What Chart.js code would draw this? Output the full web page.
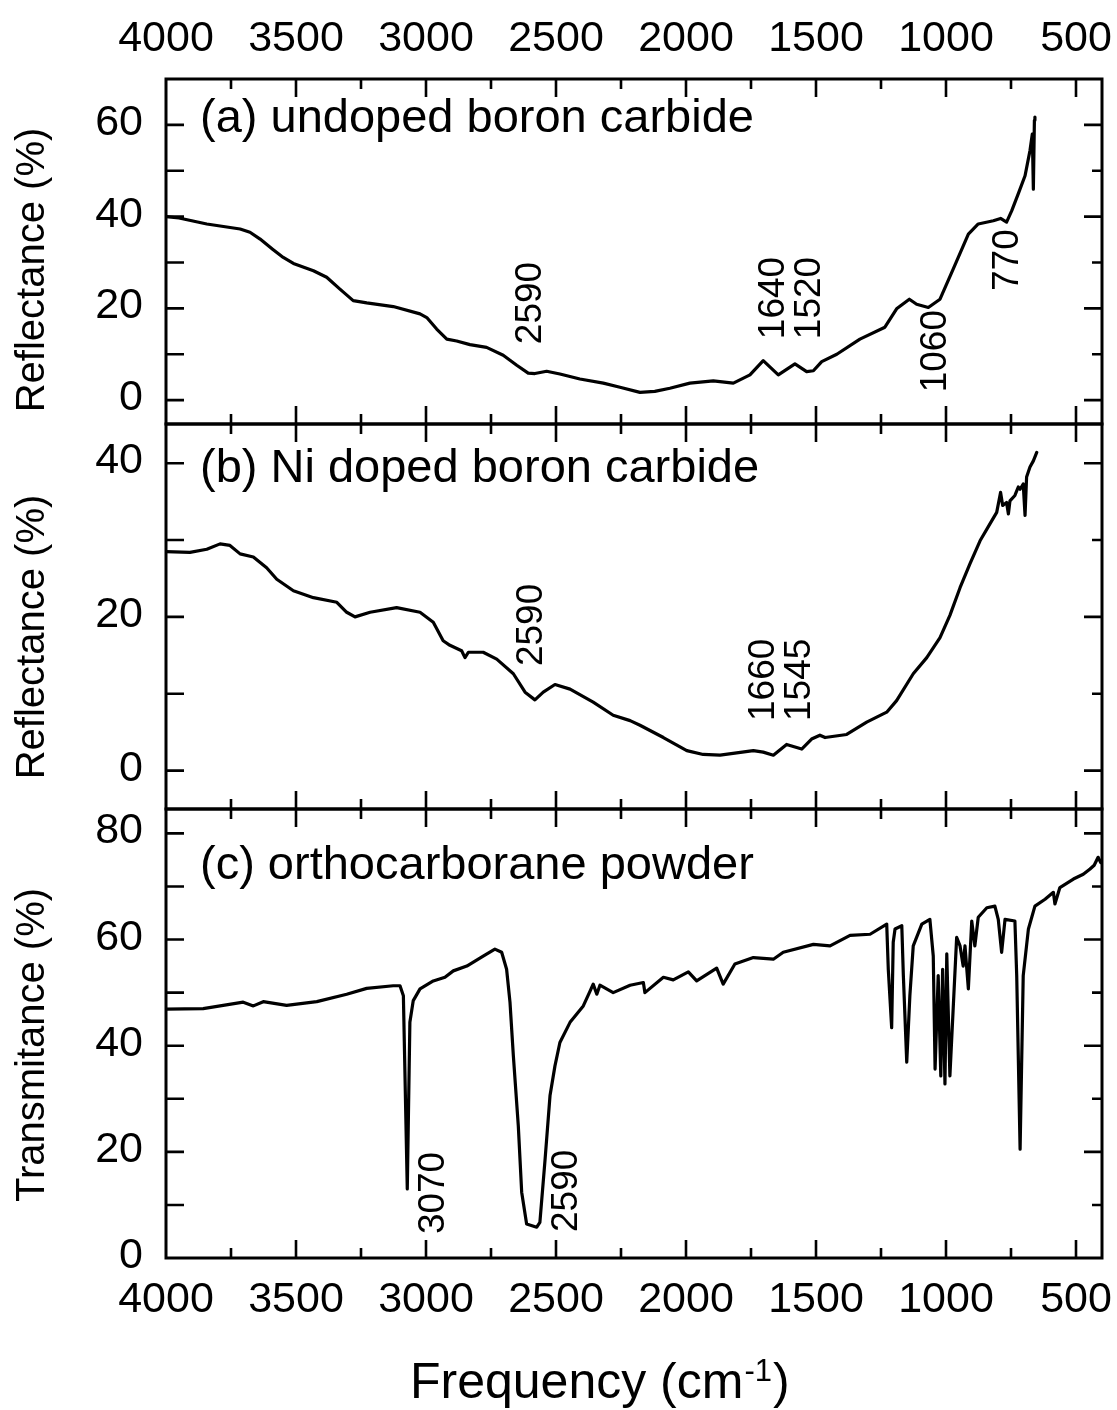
<!DOCTYPE html>
<html>
<head>
<meta charset="utf-8">
<script src="https://cdn.jsdelivr.net/npm/chart.js@4.4.0/dist/chart.umd.min.js"></script>
<style>
  html, body { margin: 0; padding: 0; background: #fff; }
  #wrap { position: relative; width: 1117px; height: 1410px; overflow: hidden; }
  canvas { position: absolute; left: 0; }
</style>
</head>
<body>
<div id="wrap">
  <canvas id="panelA" width="1117" height="440" style="top:0px"></canvas>
  <canvas id="panelB" width="1117" height="405" style="top:414px"></canvas>
  <canvas id="panelC" width="1117" height="611" style="top:799px"></canvas>
</div>
<script>
// frequency axis (cm-1), shared by the three panels
const xMajor = [4000, 3500, 3000, 2500, 2000, 1500, 1000, 500];
const xMinor = [3750, 3250, 2750, 2250, 1750, 1250, 750];

// (a) undoped boron carbide, reflectance %
const aFreq = [4000, 3950, 3843, 3715, 3677, 3638, 3590, 3549, 3510, 3433, 3382, 3331, 3280, 3228, 3126, 3023, 2997, 2959, 2920, 2882, 2831, 2767, 2703, 2651, 2607, 2581, 2536, 2485, 2408, 2318, 2254, 2177, 2120, 2062, 1985, 1895, 1818, 1754, 1703, 1645, 1581, 1536, 1510, 1478, 1420, 1331, 1235, 1190, 1141, 1113, 1068, 1023, 972, 914, 876, 818, 790, 767, 747, 720, 696, 677, 668, 664, 660, 658];
const aRefl = [40.0, 39.7, 38.4, 37.3, 36.6, 35.1, 32.9, 31.1, 29.8, 28.2, 26.8, 24.2, 21.7, 21.2, 20.4, 18.8, 18.0, 15.5, 13.3, 12.9, 12.1, 11.5, 9.8, 7.6, 5.9, 5.8, 6.3, 5.7, 4.6, 3.7, 2.8, 1.7, 1.9, 2.6, 3.7, 4.2, 3.7, 5.5, 8.6, 5.5, 7.9, 6.2, 6.4, 8.4, 10.0, 13.3, 15.9, 19.9, 22.0, 20.9, 20.2, 22.0, 28.6, 36.2, 38.4, 39.1, 39.6, 38.8, 41.3, 45.3, 48.9, 54.4, 58.0, 46.0, 61.0, 61.7];
const aTicks = [0, 10, 20, 30, 40, 50, 60];
const aLabels = [0, 20, 40, 60];
const aPeaks = [['2590', 2598, 12.2], ['1640', 1664, 13.3], ['1520', 1523, 13.3], ['1060', 1038, 1.7], ['770', 762, 23.8]];

// (b) Ni doped boron carbide, reflectance %
const bFreq = [4000, 3908, 3843, 3792, 3754, 3715, 3664, 3613, 3574, 3510, 3433, 3343, 3305, 3273, 3215, 3113, 3023, 2972, 2934, 2908, 2863, 2850, 2837, 2780, 2728, 2664, 2619, 2581, 2549, 2504, 2446, 2357, 2280, 2215, 2177, 2087, 1997, 1934, 1869, 1741, 1703, 1664, 1613, 1555, 1517, 1485, 1465, 1382, 1305, 1228, 1190, 1126, 1074, 1023, 985, 946, 908, 869, 831, 805, 790, 782, 767, 760, 754, 735, 722, 715, 703, 696, 690, 677, 664, 651];
const bRefl = [28.5, 28.4, 28.8, 29.5, 29.3, 28.2, 27.8, 26.4, 24.9, 23.4, 22.5, 21.9, 20.6, 20.0, 20.6, 21.2, 20.6, 19.3, 16.9, 16.3, 15.6, 14.7, 15.4, 15.4, 14.5, 12.6, 10.2, 9.2, 10.2, 11.2, 10.6, 8.9, 7.2, 6.5, 5.9, 4.3, 2.6, 2.1, 2.0, 2.6, 2.4, 2.0, 3.4, 2.8, 4.1, 4.6, 4.3, 4.7, 6.3, 7.6, 9.1, 12.6, 14.7, 17.3, 20.2, 23.8, 26.9, 29.9, 32.1, 33.6, 36.2, 34.5, 34.9, 33.4, 35.1, 35.8, 36.9, 36.6, 37.3, 33.2, 38.2, 39.5, 40.3, 41.4];
const bTicks = [0, 10, 20, 30, 40];
const bLabels = [0, 20, 40];
const bPeaks = [['2590', 2592, 13.6], ['1660', 1700, 6.45], ['1545', 1562, 6.45]];

// (c) orthocarborane powder, transmitance %
const cFreq = [4000, 3857, 3703, 3664, 3626, 3536, 3420, 3305, 3228, 3126, 3100, 3087, 3072, 3062, 3049, 3023, 2972, 2927, 2895, 2843, 2780, 2735, 2709, 2690, 2677, 2664, 2645, 2632, 2613, 2574, 2562, 2542, 2523, 2504, 2485, 2446, 2395, 2369, 2357, 2343, 2331, 2280, 2215, 2164, 2158, 2087, 2049, 1991, 1959, 1882, 1857, 1812, 1741, 1664, 1626, 1510, 1446, 1369, 1292, 1228, 1222, 1209, 1203, 1196, 1170, 1164, 1151, 1139, 1126, 1093, 1062, 1049, 1042, 1030, 1020, 1013, 1004, 997, 985, 959, 946, 934, 927, 914, 901, 889, 876, 843, 812, 799, 786, 773, 735, 728, 715, 703, 683, 658, 619, 587, 581, 562, 510, 472, 446, 430, 415, 405, 400];
const cTrans = [46.9, 47.0, 48.2, 47.5, 48.3, 47.6, 48.3, 49.7, 50.8, 51.3, 51.3, 49.4, 13.0, 44.4, 48.5, 50.7, 52.2, 52.9, 54.1, 55.0, 56.9, 58.2, 57.6, 54.4, 48.2, 38.1, 24.9, 12.4, 6.4, 5.8, 6.7, 18.6, 30.6, 36.2, 40.6, 44.4, 47.5, 50.3, 51.6, 49.7, 51.4, 50.0, 51.4, 51.9, 50.0, 52.9, 52.4, 53.9, 52.2, 54.6, 51.6, 55.4, 56.6, 56.3, 57.6, 59.1, 58.8, 60.8, 61.0, 62.9, 54.4, 43.4, 59.5, 62.0, 62.6, 53.2, 36.9, 49.4, 58.8, 62.9, 63.8, 56.9, 35.6, 53.2, 34.3, 54.4, 32.8, 57.3, 34.3, 60.4, 58.8, 55.0, 58.8, 50.7, 63.5, 58.8, 64.2, 66.0, 66.3, 63.8, 57.6, 63.8, 63.5, 53.2, 20.5, 53.2, 62.0, 66.3, 67.6, 68.9, 66.7, 69.8, 71.4, 72.3, 73.3, 74.0, 75.5, 74.5, 75.0];
const cTicks = [10, 20, 30, 40, 50, 60, 70, 80];
const cLabels = [0, 20, 40, 60, 80];
const cPeaks = [['3070', 2971, 4.5], ['2590', 2458, 4.9]];

const FONT = '"Liberation Sans", Arial, Helvetica, sans-serif';

function tick(ctx, x1, y1, x2, y2) {
    ctx.moveTo(x1, y1);
    ctx.lineTo(x2, y2);
}

function framePlugin(cfg) {
    return {
        id: 'frame',
        afterDraw(chart) {
            const ctx = chart.ctx;
            const a = chart.chartArea;
            const xs = chart.scales.x, ys = chart.scales.y;
            const off = cfg.offsetTop;
            ctx.save();
            ctx.strokeStyle = '#000';
            ctx.fillStyle = '#000';
            ctx.lineWidth = 3;
            ctx.strokeRect(a.left, a.top, a.right - a.left, a.bottom - a.top);

            ctx.lineWidth = 2.6;
            ctx.beginPath();
            xMajor.forEach(v => {
                const px = xs.getPixelForValue(v);
                if (px <= a.left + 1) return;
                tick(ctx, px, a.top, px, a.top + 18);
                tick(ctx, px, a.bottom, px, a.bottom - 18);
            });
            xMinor.forEach(v => {
                const px = xs.getPixelForValue(v);
                tick(ctx, px, a.top, px, a.top + 10);
                tick(ctx, px, a.bottom, px, a.bottom - 10);
            });
            cfg.yTicks.forEach(v => {
                const py = ys.getPixelForValue(v);
                const major = cfg.yLabels.includes(v);
                tick(ctx, a.left, py, a.left + 18, py);
                tick(ctx, a.right, py, a.right - (major ? 18 : 10), py);
            });
            ctx.stroke();

            // y tick labels
            ctx.font = '43px ' + FONT;
            ctx.textAlign = 'right';
            ctx.textBaseline = 'alphabetic';
            cfg.yLabels.forEach(v => {
                ctx.fillText(String(v), a.left - 23, ys.getPixelForValue(v) + 10);
            });

            // x tick labels (top of panel a, bottom of panel c)
            if (cfg.xLabelBase) {
                ctx.textAlign = 'center';
                xMajor.forEach(v => {
                    ctx.fillText(String(v), xs.getPixelForValue(v), cfg.xLabelBase - off);
                });
            }

            // panel caption
            ctx.font = '47px ' + FONT;
            ctx.textAlign = 'left';
            ctx.fillText(cfg.caption, a.left + 34, a.top + cfg.captionDy);

            // y title
            ctx.font = '40px ' + FONT;
            ctx.save();
            ctx.translate(33, cfg.yTitleY - off);
            ctx.rotate(-Math.PI / 2);
            ctx.textAlign = 'center';
            ctx.textBaseline = 'middle';
            ctx.fillText(cfg.yTitle, 0, 0);
            ctx.restore();

            // peak labels, rotated, reading upward
            ctx.font = '37px ' + FONT;
            cfg.peaks.forEach(([txt, f, v]) => {
                ctx.save();
                ctx.translate(xs.getPixelForValue(f), ys.getPixelForValue(v));
                ctx.rotate(-Math.PI / 2);
                ctx.textAlign = 'left';
                ctx.textBaseline = 'middle';
                ctx.fillText(txt, 0, 0);
                ctx.restore();
            });

            // x axis title
            if (cfg.xTitle) {
                const base = 1398 - off;
                let x = 410;
                ctx.textAlign = 'left';
                ctx.textBaseline = 'alphabetic';
                ctx.font = '50px ' + FONT;
                ctx.fillText('Frequency (cm', x, base);
                x += ctx.measureText('Frequency (cm').width + 1;
                ctx.font = '31px ' + FONT;
                ctx.fillText('-1', x, base - 17);
                x += ctx.measureText('-1').width + 1;
                ctx.font = '50px ' + FONT;
                ctx.fillText(')', x, base);
            }
            ctx.restore();
        }
    };
}

function makePanel(id, freq, vals, cfg) {
    const points = freq.map((f, i) => ({x: f, y: vals[i]}));
    return new Chart(document.getElementById(id), {
        type: 'line',
        data: {
            datasets: [{
                data: points,
                borderColor: '#000',
                borderWidth: 3.2,
                borderJoinStyle: 'round',
                borderCapStyle: 'round',
                pointRadius: 0,
                tension: 0,
                fill: false
            }]
        },
        options: {
            responsive: false,
            animation: false,
            events: [],
            layout: { padding: cfg.pad },
            plugins: { legend: { display: false }, tooltip: { enabled: false } },
            scales: {
                x: { type: 'linear', min: 400, max: 4000, reverse: true, display: false },
                y: { type: 'linear', min: cfg.yMin, max: cfg.yMax, display: false }
            }
        },
        plugins: [framePlugin(cfg)]
    });
}

makePanel('panelA', aFreq, aRefl, {
    offsetTop: 0, pad: {left: 166, right: 15, top: 79, bottom: 16},
    yMin: -5.2, yMax: 70, yTicks: aTicks, yLabels: aLabels,
    xLabelBase: 50.5, caption: '(a) undoped boron carbide', captionDy: 53,
    yTitle: 'Reflectance (%)', yTitleY: 270, peaks: aPeaks
});

makePanel('panelB', bFreq, bRefl, {
    offsetTop: 414, pad: {left: 166, right: 15, top: 10, bottom: 10},
    yMin: -5, yMax: 45.1, yTicks: bTicks, yLabels: bLabels,
    caption: '(b) Ni doped boron carbide', captionDy: 58,
    yTitle: 'Reflectance (%)', yTitleY: 637, peaks: bPeaks
});

makePanel('panelC', cFreq, cTrans, {
    offsetTop: 799, pad: {left: 166, right: 15, top: 10, bottom: 152},
    yMin: 0, yMax: 84.6, yTicks: cTicks, yLabels: cLabels,
    xLabelBase: 1312, caption: '(c) orthocarborane powder', captionDy: 70,
    yTitle: 'Transmitance (%)', yTitleY: 1045, peaks: cPeaks, xTitle: true
});
</script>
</body>
</html>
